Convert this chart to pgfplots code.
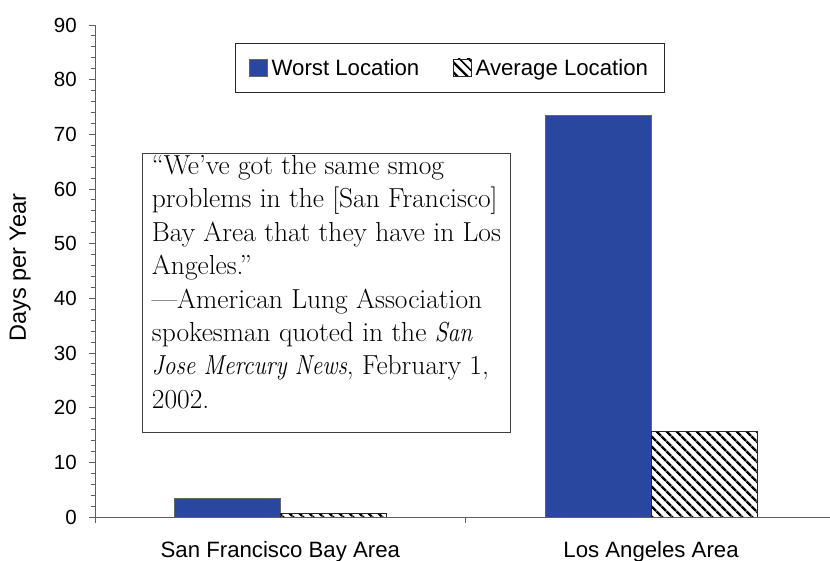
\documentclass[border=0pt]{standalone}
\usepackage{fontspec}
\usepackage{pgfplots}
\pgfplotsset{compat=1.18}
\usetikzlibrary{patterns.meta}
\newfontfamily\arial{Liberation Sans}
\definecolor{barblue}{RGB}{41,71,158}
\definecolor{axgray}{RGB}{95,95,95}
\newcommand\numfont{\arial\fontsize{20.5bp}{24bp}\selectfont}
\newcommand\catfont{\arial\fontsize{22.2bp}{26bp}\selectfont}
\newcommand\legfont{\arial\fontsize{22.2bp}{26bp}\selectfont}
% narrower italic for the newspaper name
\newcommand\paper[1]{\scalebox{0.85}[1]{\itshape #1}}

\begin{document}
\begin{tikzpicture}
\begin{axis}[
    name=ax,
    at={(0,0)}, anchor=south west,
    scale only axis,
    width=741.4bp, height=492bp,
    xmin=-0.5, xmax=1.5,
    ymin=0, ymax=90,
    axis x line=bottom, axis y line=left,
    axis line style={-, draw=axgray, line width=0.9bp},
    tick style={draw=axgray, line width=0.9bp},
    tick align=outside,
    major tick length=6bp, minor tick length=4bp,
    ybar=0pt,
    bar width=0.286,
    xtick={-0.5,0.5,1.5},
    xticklabels={San Francisco Bay Area, Los Angeles Area},
    x tick label as interval,
    xticklabel style={font=\catfont, anchor=north, inner sep=0pt, yshift=-18bp},
    ytick={0,10,...,90},
    minor y tick num=4,
    yticklabel style={font=\numfont, anchor=east, inner sep=0pt, xshift=-12bp},
    /pgf/number format/assume math mode=true,
    ylabel={Days per Year},
    ylabel style={font=\arial\fontsize{23.5bp}{27bp}\selectfont,
        at={(axis description cs:-0.101,0.507)}, anchor=center},
    legend style={at={(0.1888,0.963)}, anchor=north west,
        draw=black!85, line width=0.8bp,
        font=\legfont, legend columns=2,
        inner xsep=14bp, inner ysep=13.5bp,
        /tikz/every even column/.append style={column sep=32bp}},
    legend image code/.code={\draw[#1] (0bp,-8.5bp) rectangle (17.7bp,9bp);},
]
\addplot[fill=barblue, draw=black!60, line width=0.6bp]
    coordinates {(0,3.4) (1,73.5)};
\addplot[pattern={Lines[angle=-45,distance=6.8bp,line width=2.6bp]},
    draw=black!85, line width=0.6bp]
    coordinates {(0,0.7) (1,15.7)};
\legend{\hspace{2bp}Worst Location, \hspace{2bp}Average Location}

\node[draw=black!75, line width=0.8bp, fill=white, anchor=north west,
    align=left, inner xsep=9.5bp, inner ysep=1.5bp, text depth=22.5bp,
    font=\fontsize{27.5bp}{33.4bp}\selectfont]
    at (axis cs:-0.3732,66.5)
    {``We've got the same smog\\
     problems in the [San Francisco]\\
     Bay Area that they have in Los\\
     Angeles.''\\
     ---American Lung Association\\
     spokesman quoted in the \paper{San}\\
     \paper{Jose Mercury News}, February 1,\\
     2002.};
\end{axis}
\pgfresetboundingbox
\path (ax.south west) ++(-95bp,-44bp) rectangle ++(830bp,561bp);
\end{tikzpicture}
\end{document}
